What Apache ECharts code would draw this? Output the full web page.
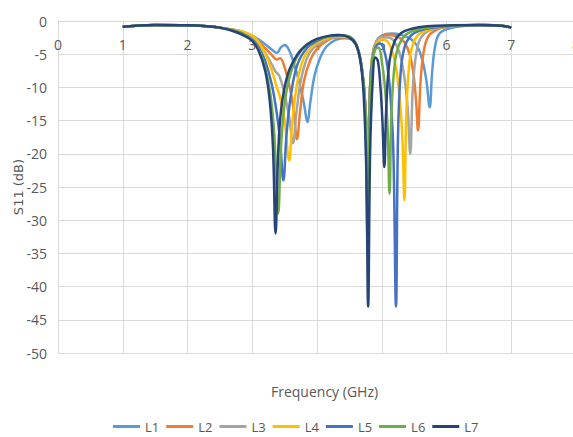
<!DOCTYPE html>
<html><head><meta charset="utf-8">
<script src="https://cdn.jsdelivr.net/npm/echarts@6/dist/echarts.min.js"></script>
<style>html,body{margin:0;padding:0;background:#fff}#c{width:573px;height:437px}</style>
</head><body><div id="c"></div>
<script>
const seriesNames = ['L1','L2','L3','L4','L5','L6','L7'];
const colors = ['#5B9BD5','#ED7D31','#A5A5A5','#FFC000','#4472C4','#70AD47','#264478'];
const xTicks = [0,1,2,3,4,5,6,7,8];
const yTicks = [0,-5,-10,-15,-20,-25,-30,-35,-40,-45,-50];

const L1 = [[1,-0.85],[1.2,-0.7],[1.5,-0.6],[2,-0.65],[2.3,-0.8],[2.5,-1.0],[2.7,-1.3],[2.85,-1.6],[3.0,-2.2],[3.1,-2.8],[3.2,-3.5],[3.3,-4.3],[3.38,-4.8],[3.44,-4.0],[3.5,-3.6],[3.57,-4.4],[3.64,-6.3],[3.72,-9],[3.8,-12.5],[3.85,-15.2],[3.9,-12],[3.96,-8.3],[4.05,-5.5],[4.15,-3.8],[4.3,-2.8],[4.45,-2.6],[4.55,-2.9],[4.63,-4.2],[4.69,-7],[4.74,-12],[4.785,-18],[4.82,-10],[4.86,-5],[4.92,-3],[5.0,-2.2],[5.15,-1.9],[5.3,-2.1],[5.45,-2.7],[5.55,-3.8],[5.63,-6],[5.69,-9],[5.74,-13],[5.78,-7.5],[5.83,-3.5],[5.9,-1.8],[6.05,-1.1],[6.3,-0.7],[6.6,-0.6],[6.85,-0.7],[7,-1.0]];
const L2 = [[1,-0.85],[1.2,-0.7],[1.5,-0.6],[2,-0.65],[2.3,-0.8],[2.5,-1.0],[2.7,-1.3],[2.85,-1.7],[3.0,-2.4],[3.1,-3.1],[3.2,-4.1],[3.3,-5.1],[3.38,-5.8],[3.43,-5.6],[3.5,-7],[3.58,-10],[3.64,-13.5],[3.69,-17.8],[3.74,-13.5],[3.8,-9],[3.9,-5.8],[4.0,-4.2],[4.15,-3],[4.3,-2.5],[4.45,-2.5],[4.55,-2.8],[4.63,-4.2],[4.69,-7],[4.74,-12],[4.785,-20],[4.82,-10],[4.86,-5],[4.92,-3],[5.0,-2.3],[5.12,-2.1],[5.25,-2.4],[5.35,-3.2],[5.43,-5],[5.49,-8],[5.53,-12],[5.56,-16.5],[5.6,-9],[5.65,-4.5],[5.72,-2.3],[5.85,-1.3],[6.0,-0.9],[6.3,-0.65],[6.6,-0.6],[6.85,-0.7],[7,-1.0]];
const L3 = [[1,-0.85],[1.2,-0.7],[1.5,-0.6],[2,-0.65],[2.3,-0.8],[2.5,-1.0],[2.7,-1.35],[2.85,-1.8],[3.0,-2.6],[3.1,-3.5],[3.2,-4.8],[3.3,-6.5],[3.36,-7.6],[3.42,-8.3],[3.5,-11],[3.57,-14.5],[3.63,-18.4],[3.68,-14],[3.75,-9],[3.85,-5.5],[3.95,-4],[4.1,-3],[4.3,-2.4],[4.45,-2.4],[4.55,-2.8],[4.63,-4.2],[4.69,-7],[4.74,-12],[4.785,-22],[4.82,-10],[4.86,-5],[4.92,-3.2],[5.0,-2.5],[5.1,-2.5],[5.2,-3.2],[5.28,-5],[5.35,-8.5],[5.4,-13],[5.44,-20],[5.48,-10],[5.53,-5],[5.6,-2.6],[5.72,-1.5],[5.9,-1],[6.2,-0.7],[6.6,-0.6],[6.85,-0.7],[7,-1.0]];
const L4 = [[1,-0.85],[1.2,-0.7],[1.5,-0.6],[2,-0.65],[2.3,-0.8],[2.5,-1.0],[2.7,-1.3],[2.85,-1.6],[3.0,-2.2],[3.1,-3.2],[3.2,-4.9],[3.3,-7.4],[3.38,-10],[3.43,-11.5],[3.5,-15],[3.57,-21],[3.62,-15],[3.7,-9],[3.8,-5.5],[3.95,-3.6],[4.1,-2.8],[4.3,-2.3],[4.45,-2.4],[4.55,-2.8],[4.63,-4.2],[4.69,-7],[4.74,-12],[4.785,-24],[4.82,-10],[4.86,-5],[4.92,-3.4],[5.0,-2.8],[5.08,-3],[5.15,-4.2],[5.22,-7],[5.28,-12],[5.32,-18],[5.35,-27],[5.38,-14],[5.43,-6],[5.5,-3],[5.6,-1.8],[5.8,-1.1],[6.1,-0.75],[6.5,-0.6],[6.85,-0.7],[7,-1.0]];
const L5 = [[1,-0.85],[1.2,-0.7],[1.5,-0.6],[2,-0.65],[2.3,-0.8],[2.5,-1.0],[2.7,-1.4],[2.85,-1.9],[3.0,-2.8],[3.1,-4],[3.2,-6],[3.3,-9.5],[3.38,-14],[3.43,-18],[3.48,-24],[3.53,-17],[3.6,-11],[3.7,-6.5],[3.85,-4],[4.0,-3],[4.2,-2.3],[4.4,-2.2],[4.55,-2.7],[4.63,-4.2],[4.69,-7],[4.74,-12],[4.785,-34],[4.82,-10],[4.86,-5.5],[4.9,-4],[4.97,-3.4],[5.03,-4.2],[5.09,-7],[5.14,-12],[5.18,-20],[5.22,-43],[5.25,-18],[5.29,-8],[5.35,-4],[5.45,-2.2],[5.6,-1.4],[5.8,-1],[6.1,-0.7],[6.5,-0.6],[6.85,-0.7],[7,-1.0]];
const L6 = [[1,-0.85],[1.2,-0.7],[1.5,-0.6],[2,-0.65],[2.3,-0.8],[2.5,-1.0],[2.7,-1.45],[2.85,-2.0],[3.0,-2.9],[3.1,-4.3],[3.2,-7],[3.28,-11],[3.34,-17],[3.40,-29],[3.45,-18],[3.52,-11],[3.62,-7],[3.75,-4.5],[3.9,-3.2],[4.1,-2.5],[4.3,-2.1],[4.45,-2.2],[4.55,-2.7],[4.63,-4.2],[4.69,-7],[4.74,-12],[4.79,-30],[4.82,-12],[4.86,-6],[4.9,-4.3],[4.95,-4],[5.0,-6],[5.05,-10],[5.09,-16],[5.12,-26],[5.15,-14],[5.2,-6.5],[5.27,-3.5],[5.38,-2],[5.55,-1.3],[5.8,-0.9],[6.1,-0.7],[6.5,-0.6],[6.85,-0.7],[7,-1.0]];
const L7 = [[1,-0.85],[1.2,-0.7],[1.5,-0.6],[2,-0.65],[2.3,-0.8],[2.5,-1.0],[2.7,-1.5],[2.85,-2.1],[3.0,-3.0],[3.1,-4.5],[3.2,-7.5],[3.27,-12],[3.32,-19],[3.36,-32],[3.40,-20],[3.45,-13],[3.55,-8],[3.7,-5],[3.85,-3.5],[4.0,-2.7],[4.2,-2.2],[4.35,-2.1],[4.5,-2.5],[4.6,-3.5],[4.67,-6],[4.72,-11],[4.76,-22],[4.79,-43],[4.82,-20],[4.86,-9],[4.9,-5.5],[4.94,-6],[4.98,-10],[5.01,-15],[5.04,-22],[5.07,-13],[5.12,-6],[5.2,-3],[5.3,-1.8],[5.45,-1.2],[5.7,-0.8],[6.1,-0.65],[6.5,-0.6],[6.85,-0.7],[7,-1.0]];
const seriesData = [L1,L2,L3,L4,L5,L6,L7];

const font = "'Liberation Sans Narrow','Open Sans',sans-serif";
const chart = echarts.init(document.getElementById('c'), null, {renderer:'svg'});
chart.setOption({
  backgroundColor:'#fff',
  animation:false,
  grid:{left:58, top:21, width:518, height:332, containLabel:false, outerBoundsMode:'none'},
  xAxis:{type:'value', min:0, max:8, interval:1, position:'top',
    axisLine:{show:true, onZero:false, lineStyle:{color:'#d9d9d9'}},
    axisTick:{show:false},
    axisLabel:{inside:true, color:'#595959', fontSize:14, fontFamily:font, margin:16,
      formatter:v=> xTicks.includes(v)? String(v):''},
    splitLine:{show:true, lineStyle:{color:'#d9d9d9'}}},
  yAxis:{type:'value', min:-50, max:0, interval:5,
    axisLine:{show:true, lineStyle:{color:'#d9d9d9'}},
    axisTick:{show:false},
    axisLabel:{color:'#595959', fontSize:14, fontFamily:font, margin:11,
      formatter:v=> yTicks.includes(v)? String(v):''},
    splitLine:{show:true, lineStyle:{color:'#d9d9d9'}},
    name:'S11 (dB)', nameLocation:'middle', nameGap:33, nameRotate:90, nameMoveOverlap:false,
    nameTextStyle:{color:'#595959', fontSize:13, fontFamily:"'DejaVu Sans',sans-serif"}},
  title:{text:'Frequency (GHz)', left:266, top:379,
    textStyle:{color:'#595959', fontSize:14, fontWeight:'normal', fontFamily:"'Open Sans',sans-serif"}},
  legend:{top:415, left:108, icon:'rect', itemWidth:27, itemHeight:3, itemGap:7,
    textStyle:{color:'#595959', fontSize:13, fontFamily:font},
    data:seriesNames},
  series: seriesNames.map((n,i)=>({
    name:n, type:'line', data:seriesData[i], symbol:'none', smooth:0.4,
    lineStyle:{width:2.5, color:colors[i]}, itemStyle:{color:colors[i]}
  }))
});
</script></body></html>
